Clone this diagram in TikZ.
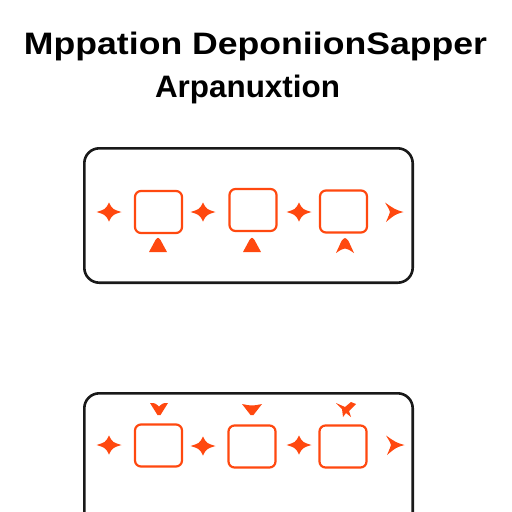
\documentclass[tikz,border=0pt]{standalone}
\usepackage{fontspec}
\setmainfont{Liberation Sans}
\usepackage{graphicx}
\definecolor{orng}{RGB}{255,72,15}
\definecolor{ink}{RGB}{25,25,25}
\tikzset{
  panel/.style={draw=ink, line width=2.6pt, rounded corners=15pt},
  cell/.style={draw=orng, line width=2.2pt, rounded corners=6pt, minimum width=47pt, minimum height=42pt, inner sep=0pt},
  titletext/.style={anchor=base, inner sep=0pt, text=black},
  sparkle/.pic={\fill[orng] (12.5,0) .. controls (3.5,2.8) .. (0,9.5) .. controls (-3.5,2.8) .. (-12.5,0) .. controls (-3.5,-2.8) .. (0,-9.5) .. controls (3.5,-2.8) .. (12.5,0) -- cycle;},
  dart/.pic={\fill[orng] (11.5,0) .. controls (3,-2.5) .. (-7,-9.5) .. controls (-3,-3) .. (-2,0) .. controls (-3,3) .. (-6,10) .. controls (3,2.5) .. (11.5,0) -- cycle;},
  uptri/.pic={\fill[orng] (-9,7) -- (-2.5,-5) .. controls (0,-8) .. (2.5,-5) -- (9,7) -- cycle;},
  uptrib/.pic={\fill[orng] (-9,7) -- (-3.5,-5) .. controls (0,-9) .. (3.5,-5) -- (9,7) .. controls (0,1) .. (-9,7) -- cycle;},
  downv/.pic={\fill[orng] (-9,-6) .. controls (-4,-6) .. (0,-2.5) .. controls (4,-6) .. (9,-6) -- (1.5,6) -- (-1.5,6) -- cycle;},
  downtri/.pic={\fill[orng] (-10,-5) .. controls (0,-3) .. (10,-5) -- (1.5,6) -- (-1.5,6) -- cycle;},
  downx/.pic={\fill[orng] (-10,-7) -- (-1,-3) -- (5,-8) -- (10,-6) -- (3,1) -- (5,7) -- (0,3) -- (-3,7) -- (-4,-1) -- cycle;},
}
\begin{document}
\begin{tikzpicture}[x=1pt,y=-1pt]
\useasboundingbox (0,0) rectangle (512,512);
\fill[white] (0,0) rectangle (512,512);
\clip (0,0) rectangle (512,512);
% title
\node[titletext] (t1) at (255.5,54) {\resizebox{463pt}{\height}{\fontsize{31pt}{31pt}\selectfont\bfseries Mppation DeponiionSapper}};
\node[titletext] (t2) at (247.5,97) {\resizebox{185pt}{\height}{\fontsize{31pt}{31pt}\selectfont\bfseries Arpanuxtion}};
% top panel
\node[panel, minimum width=328.4pt, minimum height=134.4pt, inner sep=0pt] (top) at (248.5,215.5) {};
\node[cell] (a1) at (158.5,212) {};
\node[cell] (a2) at (253,210) {};
\node[cell] (a3) at (343.5,211.5) {};
\pic at (109,212) {sparkle};
\pic at (203,212) {sparkle};
\pic at (299,212) {sparkle};
\pic at (392,212) {dart};
\pic at (158,245) {uptri};
\pic at (252,245) {uptri};
\pic at (345,246) {uptrib};
% bottom panel
\draw[panel] (84.3,393.3) rectangle (412.7,560);
\node[cell] (b1) at (158.5,445.5) {};
\node[cell] (b2) at (252,446.5) {};
\node[cell] (b3) at (343,446.5) {};
\pic at (109,445) {sparkle};
\pic at (203,446) {sparkle};
\pic at (299,445) {sparkle};
\pic at (393,445) {dart};
\pic at (159,409) {downv};
\pic at (252,409) {downtri};
\pic at (346,410) {downx};
\end{tikzpicture}
\end{document}
